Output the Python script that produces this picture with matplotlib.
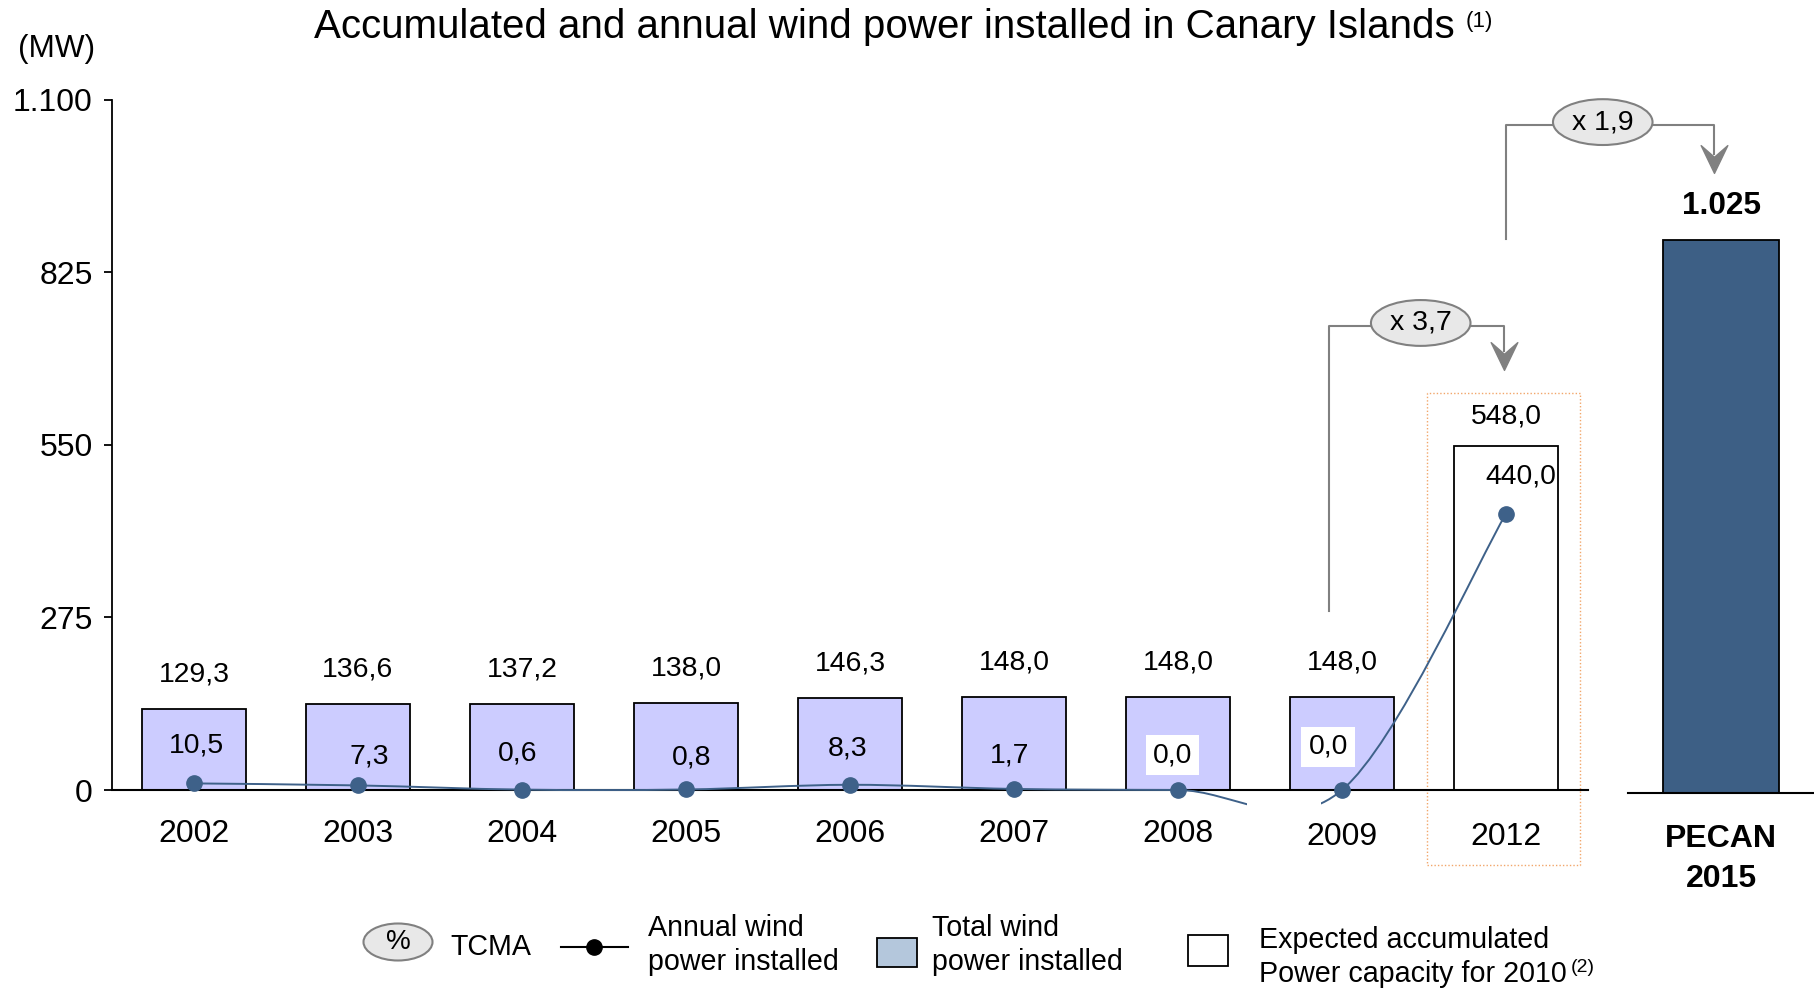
import numpy as np
import matplotlib
matplotlib.use("Agg")
import matplotlib.pyplot as plt
from matplotlib.path import Path
from matplotlib.patches import PathPatch, Ellipse, Rectangle
from matplotlib.lines import Line2D

plt.rcParams['font.family'] = ['Liberation Sans', 'DejaVu Sans']

# data
years = ['2002', '2003', '2004', '2005', '2006', '2007', '2008', '2009', '2012']
total_mw = [129.3, 136.6, 137.2, 138.0, 146.3, 148.0, 148.0, 148.0, 548.0]
annual_mw = [10.5, 7.3, 0.6, 0.8, 8.3, 1.7, 0.0, 0.0, 440.0]
pecan_label = 'PECAN\n2015'
pecan_mw = 1025
yticks = [0, 275, 550, 825, 1100]
growth_labels = ['x 3,7', 'x 1,9']

W, H = 1814, 989
BAR_C = '#ccccff'
LINE_C = '#3e6189'
PECAN_C = '#3d5f85'
GRAY = '#808080'

# stealth arrow head pointing down
HEAD = Path([(0, -0.5), (-0.48, 0.5), (0, 0.08), (0.48, 0.5), (0, -0.5)],
            [Path.MOVETO, Path.LINETO, Path.LINETO, Path.LINETO, Path.CLOSEPOLY])


def fx(px):
    return px / W


def fy(py):
    return 1 - py / H


def comma(v):
    return f"{v:.1f}".replace('.', ',')


def smooth_path(xs, ys):
    # excel style smoothed line (catmull-rom -> bezier)
    pts = list(zip(xs, ys))
    n = len(pts)
    verts = [pts[0]]
    codes = [Path.MOVETO]
    for i in range(n - 1):
        p0 = pts[i - 1] if i > 0 else pts[i]
        p1, p2 = pts[i], pts[i + 1]
        p3 = pts[i + 2] if i + 2 < n else pts[i + 1]
        c1 = (p1[0] + (p2[0] - p0[0]) / 6, p1[1] + (p2[1] - p0[1]) / 6)
        c2 = (p2[0] - (p3[0] - p1[0]) / 6, p2[1] - (p3[1] - p1[1]) / 6)
        verts += [c1, c2, p2]
        codes += [Path.CURVE4] * 3
    return Path(verts, codes)


fig = plt.figure(figsize=(W / 100, H / 100), dpi=100)
ax = fig.add_axes([fx(112), fy(790), fx(1588) - fx(112), fy(99.5) - fy(790)])

x = np.arange(len(years))
colors = [BAR_C] * (len(years) - 1) + ['white']
ax.bar(x, total_mw, width=0.63, color=colors, edgecolor='black', linewidth=1.3, zorder=2)

# smoothed annual line
ax.add_patch(PathPatch(smooth_path(x, annual_mw), facecolor='none', edgecolor=LINE_C,
                       linewidth=1.4, zorder=3, clip_on=False))
ax.add_patch(Rectangle((6.42, -38), 0.45, 29, facecolor='white', edgecolor='none',
                       zorder=3.5, clip_on=False))
ax.plot(x, annual_mw, 'o', color=LINE_C, markersize=11, zorder=4, clip_on=False)

tot_off = [25, 25, 25, 25, 25, 25, 25, 25, 21]
for i, (xi, v) in enumerate(zip(x, total_mw)):
    ax.annotate(comma(v), (xi, v), xytext=(0, tot_off[i]), textcoords='offset points',
                ha='center', va='center', fontsize=20.4)

ann_off = [(2, 27), (8, 21), (-3, 26), (4, 23), (-2, 26), (-3, 24), (-4, 25), (-10, 31), (11, 27)]
for i, (xi, v) in enumerate(zip(x, annual_mw)):
    box = None
    if v == 0:
        box = dict(boxstyle='square,pad=0.25', facecolor='white', edgecolor='none')
    ax.annotate(comma(v), (xi, v), xytext=ann_off[i], textcoords='offset points',
                ha='center', va='center', fontsize=20.4, bbox=box, zorder=5)

ax.set_xlim(-0.5, 8.5)
ax.set_ylim(0, 1100)
ax.set_yticks(yticks)
ax.set_yticklabels([f"{t:,}".replace(',', '.') for t in yticks], fontsize=23)
ax.set_xticks(x)
ax.set_xticklabels(years, fontsize=23)
ax.tick_params(axis='x', length=0, pad=21)
ax.tick_params(axis='y', length=6, width=1.3, pad=8)
for lab in ax.get_xticklabels()[-2:]:
    lab.set_y(-0.004)
ax.spines['top'].set_visible(False)
ax.spines['right'].set_visible(False)
ax.spines['left'].set_linewidth(1.3)
ax.spines['bottom'].set_linewidth(1.5)

# dotted frame around 2012
ax.add_patch(Rectangle((7.52, -119), 0.93, 751, facecolor='none', edgecolor='#f2a66a',
                       linewidth=1.0, linestyle=(0, (1, 1.5)), clip_on=False, zorder=1))

# PECAN panel
ax2 = fig.add_axes([fx(1628), fy(792.5), 1 - fx(1628), fy(99.5) - fy(792.5)])
ax2.patch.set_visible(False)
ax2.bar([0], [pecan_mw], width=0.62, color=PECAN_C, edgecolor='black', linewidth=1.3)
ax2.annotate(f"{pecan_mw:,}".replace(',', '.'), (0, pecan_mw), xytext=(0, 24),
             textcoords='offset points', ha='center', va='center', fontsize=22.7, fontweight='bold')
ax2.set_xlim(-0.5, 0.5)
ax2.set_ylim(0, pecan_mw * 693 / 553)
ax2.set_xticks([0])
ax2.set_xticklabels([pecan_label], fontsize=23, fontweight='bold', linespacing=1.42)
ax2.tick_params(axis='x', length=0, pad=23)
ax2.set_yticks([])
for s in ['top', 'right', 'left']:
    ax2.spines[s].set_visible(False)
ax2.spines['bottom'].set_linewidth(1.5)


# growth brackets
def bracket(x0, y0, ytop, ex, ew, x1, ytip, label):
    ax.plot([x0, x0, ex - ew / 2], [y0, ytop, ytop], color=GRAY, lw=1.5, clip_on=False, zorder=1)
    ax.plot([ex + ew / 2, x1, x1], [ytop, ytop, ytip + 30], color=GRAY, lw=1.5,
            clip_on=False, zorder=1)
    ax.plot([x1], [ytip + 22], marker=HEAD, markersize=20, color=GRAY, linestyle='none',
            clip_on=False, zorder=1)
    ax.add_patch(Ellipse((ex, ytop + 5), ew, 73, facecolor='#e8e8e8', edgecolor=GRAY,
                         linewidth=1.5, clip_on=False, zorder=2))
    ax.text(ex, ytop + 5, label, ha='center', va='center', fontsize=20.5, zorder=3)


bracket(6.92, 285, 739, 7.48, 0.607, 7.99, 669, growth_labels[0])
bracket(8.0, 877, 1059, 8.59, 0.607, 9.27, 983, growth_labels[1])
ax.set_zorder(3)
ax.patch.set_visible(False)

# titles
fig.text(fx(314), fy(27), 'Accumulated and annual wind power installed in Canary Islands',
         ha='left', va='center', fontsize=29)
fig.text(fx(1466), fy(21), '(1)', ha='left', va='center', fontsize=16)
fig.text(fx(57), fy(49), '(MW)', ha='center', va='center', fontsize=22.7)

# legend, drawn by hand
fig.add_artist(Ellipse((fx(398), fy(942)), fx(69), 37 / H, transform=fig.transFigure,
                       facecolor='#e8e8e8', edgecolor=GRAY, linewidth=1.5))
fig.text(fx(398), fy(942), '%', ha='center', va='center', fontsize=20)
fig.text(fx(450), fy(947), 'TCMA', ha='left', va='center', fontsize=20.6)
fig.add_artist(Line2D([fx(561), fx(628)], [fy(947), fy(947)], transform=fig.transFigure,
                      color='black', lw=1.5))
fig.add_artist(Line2D([fx(594)], [fy(947)], transform=fig.transFigure, marker='o',
                      color='black', markersize=11))
fig.text(fx(648), fy(945), 'Annual wind\npower installed', ha='left', va='center',
         fontsize=20.6, linespacing=1.3)
fig.add_artist(Rectangle((fx(877), fy(967)), fx(40), 29 / H, transform=fig.transFigure,
                         facecolor='#b4c7dc', edgecolor='black', linewidth=1.3))
fig.text(fx(932), fy(945), 'Total wind\npower installed', ha='left', va='center',
         fontsize=20.6, linespacing=1.3)
fig.add_artist(Rectangle((fx(1188), fy(966)), fx(40), 31 / H, transform=fig.transFigure,
                         facecolor='white', edgecolor='black', linewidth=1.3))
fig.text(fx(1259), fy(957), 'Expected accumulated\nPower capacity for 2010', ha='left',
         va='center', fontsize=20.6, linespacing=1.3)
fig.text(fx(1571), fy(967), '(2)', ha='left', va='center', fontsize=14)

fig.savefig('out.png', dpi=100)
